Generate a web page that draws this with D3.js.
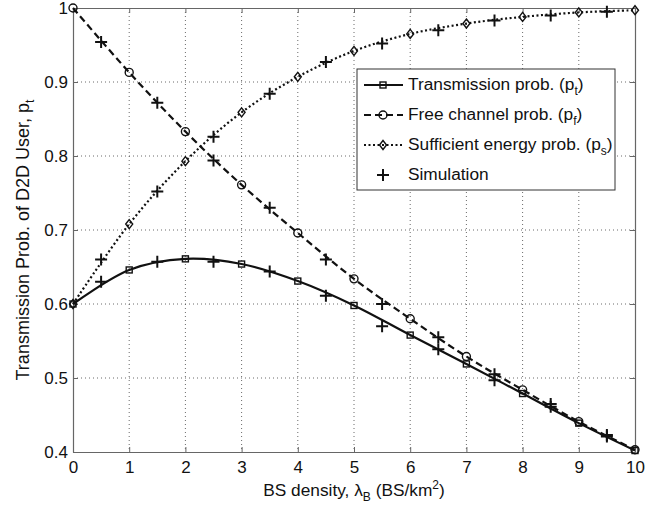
<!DOCTYPE html>
<html>
<head>
<meta charset="utf-8">
<script src="https://cdn.jsdelivr.net/npm/d3@7"></script>
<style>
  body { margin: 0; background: #fff; }
  text { font-family: "Liberation Sans", Arial, sans-serif; fill: #111; }
</style>
</head>
<body>
<div id="chart"></div>
<script>
// Chart params
var svgWidth = 660;
var svgHeight = 509;

var margin = { top: 8, right: 25, bottom: 57, left: 73 };

var width = svgWidth - margin.left - margin.right;
var height = svgHeight - margin.top - margin.bottom;

// Data
var lambdaAnalytic = [0, 1, 2, 3, 4, 5, 6, 7, 8, 9, 10];
var pTrans = [0.600, 0.646, 0.661, 0.654, 0.631, 0.598, 0.558, 0.519, 0.479, 0.439, 0.402];
var pFree = [1.000, 0.913, 0.833, 0.761, 0.696, 0.634, 0.580, 0.529, 0.484, 0.441, 0.403];
var pEnergy = [0.600, 0.708, 0.793, 0.859, 0.907, 0.942, 0.965, 0.979, 0.988, 0.994, 0.997];

var lambdaSim = [0.5, 1.5, 2.5, 3.5, 4.5, 5.5, 6.5, 7.5, 8.5, 9.5];
var simTrans = [0.630, 0.657, 0.657, 0.644, 0.611, 0.570, 0.539, 0.497, 0.461, 0.421];
var simFree = [0.954, 0.872, 0.794, 0.730, 0.660, 0.600, 0.555, 0.505, 0.465, 0.423];
var simEnergy = [0.660, 0.752, 0.826, 0.884, 0.927, 0.952, 0.970, 0.983, 0.990, 0.995];

var xTicks = [0, 1, 2, 3, 4, 5, 6, 7, 8, 9, 10];
var yTicks = [0.4, 0.5, 0.6, 0.7, 0.8, 0.9, 1];

var svg = d3.select("#chart")
    .append("svg")
    .attr("width", svgWidth)
    .attr("height", svgHeight);

var chartGroup = svg.append("g")
    .attr("transform", `translate(${margin.left}, ${margin.top})`);

// Scales
var xScale = d3.scaleLinear().domain([0, 10]).range([0, width]);
var yScale = d3.scaleLinear().domain([0.4, 1]).range([height, 0]);

// Grid
chartGroup.selectAll(".vgrid")
    .data(xTicks.slice(1, -1))
    .enter()
    .append("line")
    .attr("x1", d => xScale(d)).attr("x2", d => xScale(d))
    .attr("y1", 0).attr("y2", height)
    .attr("stroke", "#444").attr("stroke-width", 0.8)
    .attr("stroke-dasharray", "1,3");

chartGroup.selectAll(".hgrid")
    .data(yTicks.slice(1, -1))
    .enter()
    .append("line")
    .attr("y1", d => yScale(d)).attr("y2", d => yScale(d))
    .attr("x1", 0).attr("x2", width)
    .attr("stroke", "#444").attr("stroke-width", 0.8)
    .attr("stroke-dasharray", "1,3");

// Axes (MATLAB-style, inward ticks on all sides)
var bottomAxis = d3.axisBottom(xScale).tickValues(xTicks).tickSizeInner(-5).tickSizeOuter(0).tickPadding(9).tickFormat(d3.format("d"));
var topAxis = d3.axisTop(xScale).tickValues(xTicks).tickSizeInner(-5).tickSizeOuter(0).tickFormat("");
var leftAxis = d3.axisLeft(yScale).tickValues(yTicks).tickSizeInner(-5).tickSizeOuter(0).tickPadding(5).tickFormat(d => d === 1 ? "1" : d3.format(".1f")(d));
var rightAxis = d3.axisRight(yScale).tickValues(yTicks).tickSizeInner(-5).tickSizeOuter(0).tickFormat("");

function styleAxis(g) {
    g.select(".domain").attr("stroke", "#666").attr("stroke-width", 1.2);
    g.selectAll(".tick line").attr("stroke", "#666");
    g.selectAll(".tick text").attr("font-size", 17).attr("fill", "#111")
        .attr("font-family", "Liberation Sans, Arial, sans-serif");
}

chartGroup.append("g").attr("transform", `translate(0, ${height})`).call(bottomAxis).call(styleAxis);
chartGroup.append("g").call(topAxis).call(styleAxis);
chartGroup.append("g").call(leftAxis).call(styleAxis);
chartGroup.append("g").attr("transform", `translate(${width}, 0)`).call(rightAxis).call(styleAxis);

// Curves
var line = d3.line()
    .x(d => xScale(d[0]))
    .y(d => yScale(d[1]))
    .curve(d3.curveCatmullRom.alpha(0.5));

var series = [
    { name: "Transmission prob. (p", sub: "t", vals: pTrans, sim: simTrans, dash: null, marker: "square" },
    { name: "Free channel prob. (p", sub: "f", vals: pFree, sim: simFree, dash: "7,4", marker: "circle" },
    { name: "Sufficient energy prob. (p", sub: "s", vals: pEnergy, sim: simEnergy, dash: "2,2.5", marker: "diamond" }
];

function drawMarker(g, type, x, y) {
    if (type === "square") {
        g.append("rect").attr("x", x - 3).attr("y", y - 3).attr("width", 6).attr("height", 6)
            .attr("fill", "none").attr("stroke", "#111").attr("stroke-width", 1.4);
    } else if (type === "circle") {
        g.append("circle").attr("cx", x).attr("cy", y).attr("r", 4)
            .attr("fill", "none").attr("stroke", "#111").attr("stroke-width", 1.4);
    } else if (type === "diamond") {
        g.append("path").attr("d", `M${x},${y - 4.5}L${x + 3.5},${y}L${x},${y + 4.5}L${x - 3.5},${y}Z`)
            .attr("fill", "none").attr("stroke", "#111").attr("stroke-width", 1.4);
    } else if (type === "plus") {
        g.append("path").attr("d", `M${x - 6},${y}H${x + 6}M${x},${y - 6}V${y + 6}`)
            .attr("fill", "none").attr("stroke", "#111").attr("stroke-width", 2);
    }
}

series.forEach(function(s) {
    var pts = lambdaAnalytic.map((l, i) => [l, s.vals[i]]);
    chartGroup.append("path")
        .datum(pts)
        .attr("d", line)
        .attr("fill", "none")
        .attr("stroke", "#111")
        .attr("stroke-width", 2.2)
        .attr("stroke-dasharray", s.dash);
    pts.forEach(p => drawMarker(chartGroup, s.marker, xScale(p[0]), yScale(p[1])));
    lambdaSim.forEach((l, i) => drawMarker(chartGroup, "plus", xScale(l), yScale(s.sim[i])));
});

// Legend
var legend = svg.append("g").attr("transform", "translate(357, 69)");
legend.append("rect")
    .attr("width", 258).attr("height", 121)
    .attr("fill", "#fff").attr("stroke", "#333").attr("stroke-width", 1);

var legendItems = series.concat([{ name: "Simulation", sub: null, dash: null, marker: "plus", noLine: true }]);
legendItems.forEach(function(s, i) {
    var y = 16 + i * 30;
    if (!s.noLine) {
        legend.append("line")
            .attr("x1", 7).attr("x2", 46).attr("y1", y).attr("y2", y)
            .attr("stroke", "#111").attr("stroke-width", 2.2)
            .attr("stroke-dasharray", s.dash);
    }
    drawMarker(legend, s.marker, 26, y);
    var t = legend.append("text")
        .attr("x", 51).attr("y", y + 5)
        .attr("font-size", 17.3);
    t.append("tspan").text(s.name);
    if (s.sub) {
        t.append("tspan").attr("font-size", 12).attr("dy", 5).text(s.sub);
        t.append("tspan").attr("dy", -5).text(")");
    }
});

// Axis labels
var xLabel = svg.append("text")
    .attr("x", margin.left + width / 2)
    .attr("y", 496)
    .attr("text-anchor", "middle")
    .attr("font-size", 17.3);
xLabel.append("tspan").text("BS density, \u03BB");
xLabel.append("tspan").attr("font-size", 12).attr("dy", 5).text("B");
xLabel.append("tspan").attr("dy", -5).text(" (BS/km");
xLabel.append("tspan").attr("font-size", 12).attr("dy", -7).text("2");
xLabel.append("tspan").attr("dy", 7).text(")");

var yLabel = svg.append("text")
    .attr("transform", `translate(29, ${margin.top + height / 2 + 10}) rotate(-90)`)
    .attr("text-anchor", "middle")
    .attr("font-size", 18);
yLabel.append("tspan").text("Transmission Prob. of D2D User, p");
yLabel.append("tspan").attr("font-size", 12.5).attr("dy", 5).text("t");
</script>
</body>
</html>
